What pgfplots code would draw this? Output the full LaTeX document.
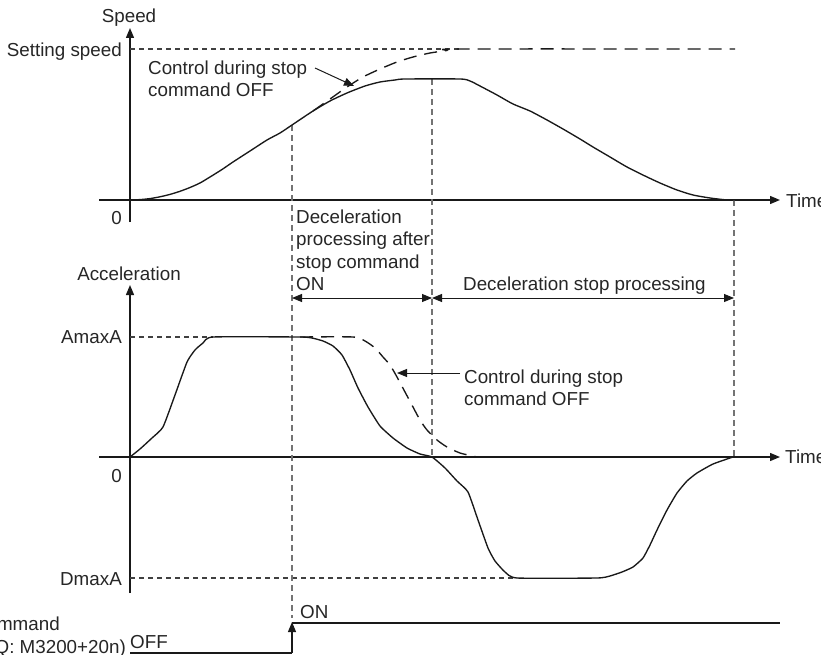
\documentclass[border=0pt]{standalone}
\usepackage{fontspec}
\setmainfont{Liberation Sans}
\usepackage{pgfplots}
\pgfplotsset{compat=1.18}
\usetikzlibrary{arrows.meta}
\begin{document}
\begin{tikzpicture}[font=\fontsize{18.8}{22.5}\selectfont,
  tri/.style={-{Triangle[length=10pt,width=8pt]}},
  tri2/.style={{Triangle[length=10pt,width=8pt]}-{Triangle[length=10pt,width=8pt]}},
  lbl/.style={inner sep=0pt, text=black!85}]
\begin{axis}[
  scale only axis, width=821pt, height=655pt,
  xmin=0, xmax=821, ymin=0, ymax=655, y dir=reverse,
  hide axis, clip=false,
  every axis plot/.append style={line width=1.35pt, black!90},
]
% --- speed axes
\addplot[tri] coordinates {(99,200) (780,200)};
\addplot[tri] coordinates {(130,222) (130,28)};
% --- acceleration axes
\addplot[tri] coordinates {(99,457) (780,457)};
\addplot[tri] coordinates {(130,593) (130,285)};

% reference lines
\addplot[black!75, line width=1.1pt, dash pattern=on 5pt off 4pt] coordinates {(130,49) (460,49)};
\addplot[black!75, line width=1.1pt, dash pattern=on 5pt off 4pt] coordinates {(130,337) (213,337)};
\addplot[black!75, line width=1.1pt, dash pattern=on 5pt off 4pt] coordinates {(130,578) (517,578)};

% vertical guides
\addplot[black!55, line width=1.2pt, dash pattern=on 6pt off 4pt] coordinates {(292,125) (292,618)};
\addplot[black!55, line width=1.2pt, dash pattern=on 6pt off 4pt] coordinates {(432,79) (432,457)};
\addplot[black!55, line width=1.2pt, dash pattern=on 6pt off 4pt] coordinates {(734,200) (734,457)};

% speed, stop command ON
\addplot[smooth, tension=0.4] coordinates {
(130,200) (140,199.6) (150,198.6) (160,196.8) (170,194.4) (180,191.3)
(190,187.5) (200,183) (210,177) (222,169.5) (233,162) (250,151) (267,140)
(280,133) (292,125) (313,111) (330,101) (347,93) (365,86) (380,82)
(395,80) (405,79) (460,79) (470,81) (480,86) (497,95) (513,104) (530,111)
(547,120) (563,129) (580,139) (593,147) (610,157) (627,167) (645,176)
(660,183) (677,190) (693,195) (710,198) (727,200) (735,200)};
% speed, stop command OFF
\addplot[smooth, tension=0.4, dash pattern=on 13pt off 8pt] coordinates {
(313,111) (330,99) (347,87) (363,77) (380,69) (397,62) (413,57) (430,53)
(447,50.5) (460,49) (735,49)};

% acceleration, stop command ON
\addplot[smooth, tension=0.3] coordinates {
(130,457) (140,449) (152,438) (163,427) (175,395) (187,362) (195,350)
(203,343) (213,337) (300,337) (312,338) (323,341) (333,346) (342,355)
(350,370) (358,388) (368,407) (380,426) (393,438) (407,448) (420,454)
(432,457) (445,468) (457,481) (468,492) (478,520) (488,548) (495,561)
(505,572) (517,578) (597,578) (610,576) (622,572) (633,567) (643,558)
(650,545) (657,530) (667,510) (677,493) (687,481) (697,473) (713,464)
(733,457)};
% acceleration, stop command OFF
\addplot[smooth, tension=0.4, dash pattern=on 13pt off 8pt] coordinates {
(300,337) (353,337) (365,341) (375,348) (383,357) (390,365) (397,377)
(405,392) (413,407) (420,420) (427,430) (437,440) (447,447) (460,453)
(477,457)};

% annotation arrows
\addplot[tri, line width=1pt] coordinates {(315,68) (354,86)};
\addplot[tri, line width=1pt] coordinates {(460,373) (397,373)};
\addplot[tri2, line width=1pt] coordinates {(292,298) (432,298)};
\addplot[tri2, line width=1pt] coordinates {(432,298) (734,298)};

% stop command signal
\addplot[line width=1.2pt] coordinates {(130,653) (292,653)};
\addplot[tri, line width=1.2pt] coordinates {(292,653) (292,622)};
\addplot[line width=1.2pt] coordinates {(292,623) (780,623)};

% labels
\node[lbl, anchor=base] at (axis cs:129,23) {Speed};
\node[lbl, anchor=base east] at (axis cs:122,57) {Setting speed};
\node[lbl, anchor=base west] at (axis cs:148,75) {Control during stop};
\node[lbl, anchor=base west] at (axis cs:148,97) {command OFF};
\node[lbl, anchor=base west] at (axis cs:786,207) {Time};
\node[lbl, anchor=base east] at (axis cs:122,224) {0};
\node[lbl, anchor=base west] at (axis cs:296,223) {Deceleration};
\node[lbl, anchor=base west] at (axis cs:296,245.5) {processing after};
\node[lbl, anchor=base west] at (axis cs:296,268) {stop command};
\node[lbl, anchor=base west] at (axis cs:296,290) {ON};
\node[lbl, anchor=base] at (axis cs:129,280) {Acceleration};
\node[lbl, anchor=base west] at (axis cs:463,290) {Deceleration stop processing};
\node[lbl, anchor=base east] at (axis cs:122,343) {AmaxA};
\node[lbl, anchor=base west] at (axis cs:464,383) {Control during stop};
\node[lbl, anchor=base west] at (axis cs:464,405) {command OFF};
\node[lbl, anchor=base west] at (axis cs:785,463) {Time};
\node[lbl, anchor=base east] at (axis cs:122,482) {0};
\node[lbl, anchor=base east] at (axis cs:122,585) {DmaxA};
\node[lbl, anchor=base west] at (axis cs:300,618) {ON};
\node[lbl, anchor=base west] at (axis cs:130,648) {OFF};
\node[lbl, anchor=base east] at (axis cs:60,630) {Stop command};
\node[lbl, anchor=base east] at (axis cs:126,653) {(Q: M3200+20n)};
\end{axis}
\pgfresetboundingbox
\path[use as bounding box] (0,0) rectangle (821pt,655pt);
\end{tikzpicture}
\end{document}
